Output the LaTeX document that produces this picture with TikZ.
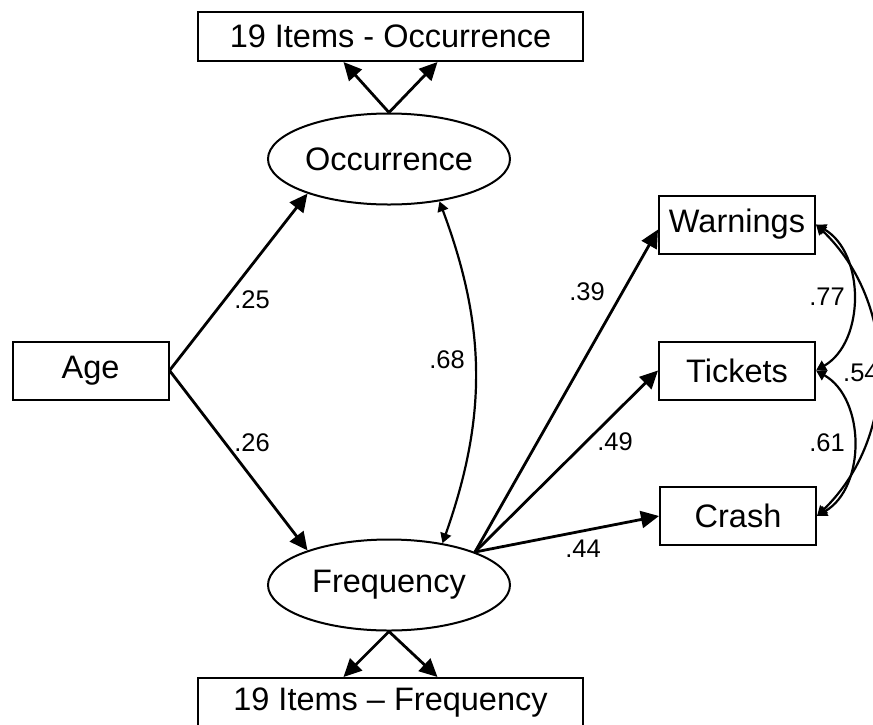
\documentclass[tikz,border=0pt]{standalone}
\usepackage{fontspec}
\setmainfont{Liberation Sans}
\usetikzlibrary{shapes.geometric,arrows.meta}

\begin{document}
\begin{tikzpicture}[
  x=1pt, y=-1pt,
  font=\fontsize{32.5}{38}\selectfont,
  box/.style={draw, rectangle, line width=2pt, minimum width=156pt, minimum height=58pt, inner sep=0pt},
  itembox/.style={box, minimum width=385pt, minimum height=49pt},
  latent/.style={draw, ellipse, line width=2pt, minimum width=242pt, minimum height=91pt, inner sep=0pt},
  effect/.style={line width=2.8pt, -{Triangle[length=18pt,width=17pt]}},
  cov/.style={line width=2.2pt, {Triangle[length=10pt,width=11pt]}-{Triangle[length=10pt,width=11pt]}},
  coef/.style={font=\fontsize{25.5}{30}\selectfont, inner sep=0pt}
]
\fill[white] (0,0) rectangle (873,724);
\useasboundingbox (0,0) rectangle (873,724);

% latent factors and their item sets
\node[latent] (occ) at (389,159) {Occurrence};
\node[latent] (freq) at (389,585) {Frequency};
\node[itembox] (occitems) at (390.5,36.5) {19 Items - Occurrence};
\node[itembox] (freqitems) at (390.5,702.5) {19 Items -- Frequency};

% observed variables
\node[box] (age) at (90.5,370.5) {Age};
\node[box] (warn) at (737,224.5) {Warnings};
\node[box] (tick) at (737,370.5) {Tickets};
\node[box] (crash) at (738,516) {Crash};

\draw[effect] (occ.north) -- ([xshift=-47pt]occitems.south);
\draw[effect] (occ.north) -- ([xshift=47pt]occitems.south);
\draw[effect] (freq.south) -- ([xshift=-47pt]freqitems.north);
\draw[effect] (freq.south) -- ([xshift=47pt]freqitems.north);

\draw[effect] (age.east) -- (occ.203);
\draw[effect] (age.east) -- (freq.157);
\draw[effect] (freq.21) -- ([yshift=-5pt]warn.west);
\draw[effect] (freq.21) -- (tick.west);
\draw[effect] (freq.21) -- (crash.west);

% correlations
\draw[cov] (occ.-40) to[bend left=20] (freq.38);
\draw[cov] (warn.east) to[bend left=60] (tick.east);
\draw[cov] (tick.east) to[bend left=60] (crash.east);
\draw[cov] (warn.east) to[bend left=46] (crash.east);

% coefficients
\node[coef] (c25) at (252,300) {.25};
\node[coef] (c26) at (252,443) {.26};
\node[coef] (c68) at (447,360) {.68};
\node[coef] (c39) at (587,292) {.39};
\node[coef] (c49) at (615,442) {.49};
\node[coef] (c44) at (583,549) {.44};
\node[coef] (c77) at (827,297) {.77};
\node[coef] (c61) at (827,443) {.61};
\node[coef, anchor=west] (c54) at (843,373) {.54};
\end{tikzpicture}
\end{document}
